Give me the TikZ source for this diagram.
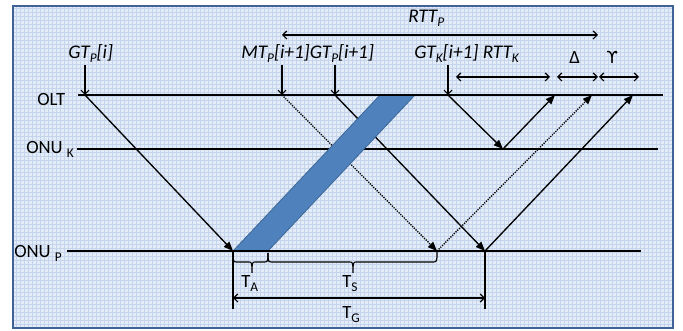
\documentclass[tikz,border=0pt]{standalone}
\usepackage{fontspec}
\setmainfont{Carlito}
\newfontfamily\dejavu{DejaVu Sans}
\usetikzlibrary{arrows.meta}
\definecolor{bgfill}{HTML}{E4ECF7}
\definecolor{gridcol}{HTML}{C3D4EC}
\definecolor{frameblue}{HTML}{3F6396}
\definecolor{bandfill}{HTML}{4F81BD}
\definecolor{banddraw}{HTML}{3B6899}
\newcommand\mysub[1]{\raisebox{-0.35ex}{\fontsize{10}{11}\selectfont #1}}
\tikzset{
  lbl/.style={anchor=base west, inner sep=0pt, font=\fontsize{14}{16}\selectfont},
  ilbl/.style={lbl, font=\fontsize{14.5}{16}\selectfont\itshape},
  thick line/.style={line width=1.9pt},
  sig/.style={line width=1pt, -{Triangle[length=7pt,width=5.5pt]}},
  dsig/.style={sig, dash pattern=on 0.9pt off 0.9pt},
  marker/.style={line width=0.9pt, -{Straight Barb[length=3pt,width=6pt]}},
  span/.style={line width=0.9pt, {Straight Barb[length=3pt,width=6pt]}-{Straight Barb[length=3pt,width=6pt]}},
  band/.style={fill=bandfill, draw=banddraw, line width=0.6pt},
  brace/.style={line width=0.9pt},
}
\begin{document}
\begin{tikzpicture}[x=0.75pt,y=-0.75pt]
\useasboundingbox (0,0) rectangle (683,331);
% background
\fill[bgfill] (13,6) rectangle (673,328);
\begin{scope}
\clip (13,6) rectangle (673,328);
\draw[gridcol, line width=0.4pt, step=3pt] (13,6) grid (673,328);
\end{scope}
\draw[frameblue, line width=1.8pt] (13,6) rectangle (673,328);

% coordinates
\coordinate (oltL) at (78,95);   \coordinate (oltR) at (663,95);
\coordinate (onukL) at (77,149); \coordinate (onukR) at (658,149);
\coordinate (onupL) at (67,251); \coordinate (onupR) at (641,251);
\coordinate (gti) at (85,95);    \coordinate (gtiT) at (85,65);
\coordinate (mt) at (282,95);    \coordinate (mtT) at (282,65);
\coordinate (gti1) at (335,95);  \coordinate (gti1T) at (335,65);
\coordinate (gtk) at (448,95);   \coordinate (gtkT) at (448,65);
\coordinate (pA) at (233,251);   \coordinate (pB) at (268,251);
\coordinate (pS) at (437,251);   \coordinate (pG) at (485,251);
\coordinate (k1) at (503,149);
\coordinate (r1) at (555,95);    \coordinate (r2) at (592,95);   \coordinate (r3) at (633,95);
\coordinate (bTL) at (380,95);   \coordinate (bTR) at (415,95);
\coordinate (vA) at (233,309);   \coordinate (vG) at (485,309);
\coordinate (tgL) at (233,298);  \coordinate (tgR) at (485,298);
\coordinate (rttpL) at (282,35); \coordinate (rttpR) at (598,35);
\coordinate (rkL) at (456,77);   \coordinate (rkR) at (550,77);
\coordinate (dL) at (557,77);    \coordinate (dR) at (598,77);
\coordinate (uL) at (599,77);    \coordinate (uR) at (639,77);

% labels
\node[lbl] (lolt) at (37,106) {OLT};
\node[lbl] (lonuk) at (26,154) {ONU \mysub{K}};
\node[lbl] (lonup) at (14,258) {ONU \mysub{P}};
\node[ilbl] (lgti) at (68,59) {GT\mysub{P}[i]};
\node[ilbl] (lmt) at (241,59) {MT\mysub{P}[i+1]GT\mysub{P}[i+1]};
\node[ilbl] (lgtk) at (414,59) {GT\mysub{K}[i+1] RTT\mysub{K}};
\node[ilbl] (lrttp) at (408,23) {RTT\mysub{P}};
\node[lbl] (ldelta) at (569,64) {Δ};
\node[lbl, font=\fontsize{12.5}{13}\dejavu] (lups) at (606,64) {ϒ};
\node[lbl] (lta) at (241,288) {T\mysub{A}};
\node[lbl] (lts) at (342,288) {T\mysub{S}};
\node[lbl] (ltg) at (342,319) {T\mysub{G}};

% station lines (under band)
\draw[thick line] (onukL) -- (onukR);

% signals
\draw[sig] (gti) -- (pA);
\draw[dsig] (mt) -- (pS);
\draw[sig] (gti1) -- (pG);
\draw[sig] (pG) -- (r3);
\draw[dsig] (pS) -- (r2);
\draw[sig] (gtk) -- (k1);
\draw[sig] (k1) -- (r1);

% upstream burst band
\filldraw[band] (pA) -- (pB) -- (bTR) -- (bTL) -- cycle;

\draw[thick line] (oltL) -- (oltR);
\draw[thick line] (onupL) -- (onupR);

% grant markers
\draw[marker] (gtiT) -- (gti);
\draw[marker] (mtT) -- (mt);
\draw[marker] (gti1T) -- (gti1);
\draw[marker] (gtkT) -- (gtk);

% spans
\draw[span] (rttpL) -- (rttpR);
\draw[span] (rkL) -- (rkR);
\draw[span] (dL) -- (dR);
\draw[span] (uL) -- (uR);

% bottom timing
\draw[line width=1.9pt] (pA) -- (vA);
\draw[line width=1.9pt] (pG) -- (vG);
\draw[span] (tgL) -- (tgR);
\draw[brace] (233,253) .. controls (233,262) .. (238,262) -- (248,262)
   .. controls (252,262) .. (252,273) .. controls (252,262) .. (256,262) -- (263,262)
   .. controls (268,262) .. (268,253);
\draw[brace] (268,253) .. controls (268,262) .. (273,262) -- (349,262)
   .. controls (353,262) .. (353,273) .. controls (353,262) .. (357,262) -- (432,262)
   .. controls (437,262) .. (437,252);
\end{tikzpicture}
\end{document}
